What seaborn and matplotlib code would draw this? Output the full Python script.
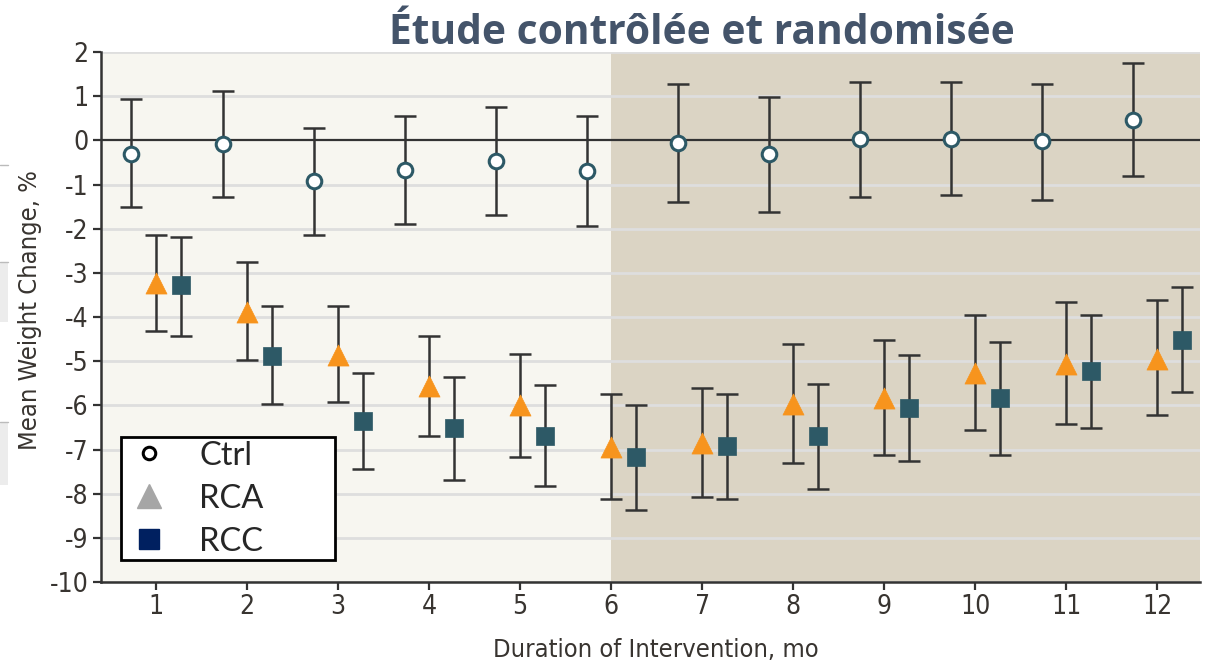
import numpy as np
import pandas as pd
import matplotlib
matplotlib.use("Agg")
import matplotlib.pyplot as plt
from matplotlib.lines import Line2D
from matplotlib.patches import Rectangle
import seaborn as sns

# ---- data: mean weight change (%) and 95% CI per month ----
months = list(range(1, 13))
groups = ["Ctrl", "RCA", "RCC"]

ctrl_mean = [-0.30, -0.09, -0.92, -0.67, -0.46, -0.69, -0.07, -0.30, 0.02, 0.04, -0.02, 0.47]
ctrl_lo = [-1.52, -1.28, -2.14, -1.89, -1.70, -1.95, -1.39, -1.63, -1.29, -1.24, -1.34, -0.81]
ctrl_hi = [0.94, 1.12, 0.27, 0.56, 0.75, 0.56, 1.28, 0.99, 1.31, 1.31, 1.28, 1.74]

rca_mean = [-3.24, -3.88, -4.85, -5.57, -5.99, -6.94, -6.85, -5.97, -5.83, -5.26, -5.06, -4.94]
rca_lo = [-4.31, -4.98, -5.93, -6.69, -7.17, -8.13, -8.07, -7.31, -7.12, -6.56, -6.42, -6.23]
rca_hi = [-2.14, -2.76, -3.75, -4.42, -4.84, -5.75, -5.60, -4.61, -4.52, -3.95, -3.67, -3.61]

rcc_mean = [-3.27, -4.89, -6.36, -6.52, -6.69, -7.17, -6.91, -6.70, -6.05, -5.84, -5.22, -4.51]
rcc_lo = [-4.42, -5.97, -7.45, -7.68, -7.83, -8.36, -8.13, -7.89, -7.26, -7.12, -6.51, -5.70]
rcc_hi = [-2.18, -3.75, -5.27, -5.36, -5.55, -5.99, -5.75, -5.51, -4.85, -4.57, -3.95, -3.33]

y_ticks = list(range(-10, 3))
title = "Étude contrôlée et randomisée"
x_label = "Duration of Intervention, mo"
y_label = "Mean Weight Change, %"

# ---- tidy frame ----
frames = []
for g, m, lo, hi in [("Ctrl", ctrl_mean, ctrl_lo, ctrl_hi),
                     ("RCA", rca_mean, rca_lo, rca_hi),
                     ("RCC", rcc_mean, rcc_lo, rcc_hi)]:
    frames.append(pd.DataFrame({"month": months, "group": g, "mean": m, "lo": lo, "hi": hi}))
df = pd.concat(frames, ignore_index=True)
offsets = {"Ctrl": -0.27, "RCA": 0.0, "RCC": 0.27}
df["x"] = df["month"] + df["group"].map(offsets)

# ---- style ----
sns.set_theme(style="white")
plt.rcParams["font.family"] = ["DejaVu Sans"]
tick_size = 19
label_size = 18.3
text_col = "#383430"

fig = plt.figure(figsize=(12.07, 6.63), dpi=100)
ax = fig.add_axes([101 / 1207, 81 / 663, 1099 / 1207, 530 / 663])

ax.set_xlim(0.395, 12.47)
ax.set_ylim(-10, 2)

# two-phase background
ax.axvspan(0.395, 6.0, color="#f7f6f0", zorder=0, lw=0)
ax.axvspan(6.0, 12.47, color="#dbd4c4", zorder=0, lw=0)

# horizontal grid
for yv in y_ticks:
    if yv != 0:
        ax.axhline(yv, color="#dedede", lw=2, zorder=1)
ax.axhline(0, color="#333333", lw=1.6, zorder=1.5)

# error bars
for g in groups:
    sub = df[df["group"] == g]
    ax.errorbar(sub["x"], sub["mean"],
                yerr=[sub["mean"] - sub["lo"], sub["hi"] - sub["mean"]],
                fmt="none", ecolor="#333333", elinewidth=1.8, capsize=8, capthick=1.8,
                zorder=2)

# point estimates
teal = "#2d5966"
orange = "#f7941d"
sns.scatterplot(data=df[df["group"] == "Ctrl"], x="x", y="mean", ax=ax, marker="o",
                s=110, color="white", edgecolor=teal, linewidth=2.2, zorder=3, legend=False)
sns.scatterplot(data=df[df["group"] == "RCA"], x="x", y="mean", ax=ax, marker="^",
                s=230, color=orange, edgecolor=orange, linewidth=0.5, zorder=3, legend=False)
sns.scatterplot(data=df[df["group"] == "RCC"], x="x", y="mean", ax=ax, marker="s",
                s=175, color=teal, edgecolor=teal, linewidth=0.5, zorder=3, legend=False)

# axes decoration
ax.set_xticks(months)
ax.set_yticks(y_ticks)
ax.set_xticklabels([str(m) for m in months])
ax.set_yticklabels([str(v) for v in y_ticks])
for side in ["top", "right"]:
    ax.spines[side].set_visible(False)
for side in ["left", "bottom"]:
    ax.spines[side].set_color("#333333")
    ax.spines[side].set_linewidth(1.8)
ax.tick_params(axis="both", direction="out", length=6, width=1.6, color="#333333",
               labelsize=tick_size, labelcolor=text_col, pad=3)
ax.tick_params(left=True, bottom=True)
for lab in ax.get_xticklabels() + ax.get_yticklabels():
    lab.set_fontstretch("condensed")
ax.set_xlabel("")
ax.set_ylabel("")
fig.text(656 / 1207, 1 - 650 / 663, x_label, fontsize=label_size, color=text_col,
         fontstretch="condensed", ha="center", va="center")
fig.text(30 / 1207, 1 - 310 / 663, y_label, fontsize=label_size, color=text_col,
         fontstretch="condensed", ha="center", va="center", rotation=90)

# legend
handles = [
    Line2D([], [], ls="none", marker="o", ms=9, mfc="white", mec="black", mew=2.2),
    Line2D([], [], ls="none", marker="^", ms=17, mfc="#a6a6a6", mec="#a6a6a6"),
    Line2D([], [], ls="none", marker="s", ms=14, mfc="#002060", mec="#002060"),
]
leg = ax.legend(handles, groups, loc="lower left",
                bbox_to_anchor=(20 / 1099, 22 / 530, 214 / 1099, 122 / 530), mode="expand",
                borderaxespad=0, frameon=True, fancybox=False, numpoints=1,
                prop={"family": ["Lato", "DejaVu Sans"], "size": 23.5},
                handlelength=1.5, handletextpad=0.8, labelspacing=0.4, borderpad=0.1)
leg.get_frame().set_edgecolor("black")
leg.get_frame().set_linewidth(2)
leg.get_frame().set_facecolor("white")
leg.get_frame().set_alpha(1)
leg.set_zorder(5)

# title
fig.text(702 / 1207, 1 - 34 / 663, title, fontsize=29.3, fontweight="bold",
         color="#44546a", family=["Open Sans", "DejaVu Sans"], ha="center", va="center")

# slide fragments at the left edge
for (y0, y1) in [(262, 322), (422, 485)]:
    fig.patches.append(Rectangle((0, 1 - y1 / 663), 8 / 1207, (y1 - y0) / 663,
                                 transform=fig.transFigure, facecolor="#ececec",
                                 edgecolor="none"))
    fig.lines.append(Line2D([0, 8 / 1207], [1 - y0 / 663] * 2, transform=fig.transFigure,
                            color="#bbbbbb", lw=1))
fig.lines.append(Line2D([0, 8 / 1207], [1 - 165 / 663] * 2, transform=fig.transFigure,
                        color="#bbbbbb", lw=1))

fig.savefig("out.png", dpi=100)
